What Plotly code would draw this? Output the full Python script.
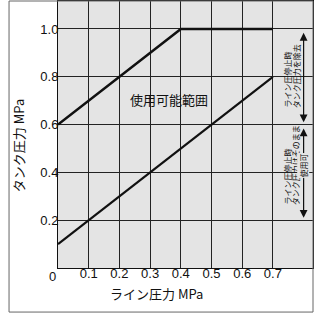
import plotly.graph_objects as go

upper_x = [0, 0.4, 0.7]
upper_y = [0.6, 1.0, 1.0]
lower_x = [0, 0.7]
lower_y = [0.1, 0.8]
x_ticks = [0.1, 0.2, 0.3, 0.4, 0.5, 0.6, 0.7]
x_labels = ["0.1", "0.2", "0.3", "0.4", "0.5", "0.6", "0.7"]
y_ticks = [0.2, 0.4, 0.6, 0.8, 1.0]
y_labels = ["0.2", "0.4", "0.6", "0.8", "1.0"]

LAT = "Liberation Sans, Arial, sans-serif"
JP = "Noto Sans CJK JP, sans-serif"
BG = "#e4e4e4"
TXT = dict(family=JP, size=8, color="#111")

fig = go.Figure()
fig.add_trace(go.Scatter(x=upper_x, y=upper_y, mode="lines",
                         line=dict(color="#111", width=2.6), showlegend=False, hoverinfo="skip"))
fig.add_trace(go.Scatter(x=lower_x, y=lower_y, mode="lines",
                         line=dict(color="#111", width=2.2), showlegend=False, hoverinfo="skip"))

fig.update_layout(
    width=318, height=313,
    margin=dict(l=58, r=5, t=1, b=45),
    paper_bgcolor="white", plot_bgcolor=BG,
    font=dict(family=LAT, size=13, color="#111"),
)
fig.update_xaxes(range=[0, 0.8306], tickvals=x_ticks, ticktext=x_labels,
                 showgrid=True, gridcolor="#222", gridwidth=1, zeroline=False,
                 showline=True, linecolor="#111", linewidth=1, mirror=True,
                 ticks="", ticklen=0, ticklabelstandoff=-7, tickfont=dict(family=LAT, size=13))
fig.update_yaxes(range=[0, 1.117], tickvals=y_ticks, ticktext=y_labels,
                 showgrid=True, gridcolor="#222", gridwidth=1, zeroline=False,
                 showline=True, linecolor="#111", linewidth=1, mirror=True,
                 ticks="", ticklen=0, ticklabelstandoff=-4, tickfont=dict(family=LAT, size=13))

# "0" origin label (offset left of the axis, as in the reference)
fig.add_annotation(text="0", xref="paper", yref="paper", x=-0.02, y=-0.033,
                   xanchor="center", yanchor="middle", showarrow=False,
                   font=dict(family=LAT, size=13, color="#111"))

# outer frame
fig.add_shape(type="rect", xref="paper", yref="paper", x0=-0.192, x1=1.0, y0=-0.165, y1=1.0,
              line=dict(color="#666", width=1), fillcolor="rgba(0,0,0,0)", layer="above")

# axis titles
fig.add_annotation(text="ライン圧力 MPa", xref="paper", yref="paper", x=0.388, y=-0.094,
                   xanchor="center", yanchor="middle",
                   showarrow=False, font=dict(family=JP, size=13, color="#111"))
fig.add_annotation(text="タンク圧力 MPa", xref="paper", yref="paper", x=-0.157, y=0.46,
                   xanchor="center", yanchor="middle",
                   textangle=-90, showarrow=False, font=dict(family=JP, size=13, color="#111"))

# center label
fig.add_annotation(text="使用可能範囲", x=0.362, y=0.707, showarrow=False,
                   font=dict(family=JP, size=13, color="#111"))

# arrows
for y0, y1 in [(1.0, 0.6), (0.6, 0.2)]:
    fig.add_annotation(x=0.800, y=y1 + 0.01, ax=0.800, ay=y0 - 0.01,
                       xref="x", yref="y", axref="x", ayref="y", text="",
                       showarrow=True, arrowhead=2, arrowside="end+start", arrowsize=1.3,
                       arrowwidth=1.2, arrowcolor="#111")

# side texts (vertical)
side = [
    ("ライン圧停止時", 0.748, 0.787, None),
    ("タンク圧力を除去", 0.776, 0.803, None),
    ("ライン圧停止時", 0.748, 0.381, None),
    ("タンク圧力はそのまま", 0.776, 0.431, None),
    ("使用可", 0.800, 0.427, BG),
]
for t, x, y, bg in side:
    fig.add_annotation(text=t, x=x, y=y, textangle=-90, showarrow=False,
                       xanchor="center", yanchor="middle",
                       bgcolor=bg, borderpad=0, font=TXT)

fig.write_html("out.html", config={"displayModeBar": False},
               post_script="document.body.style.margin='0';")
